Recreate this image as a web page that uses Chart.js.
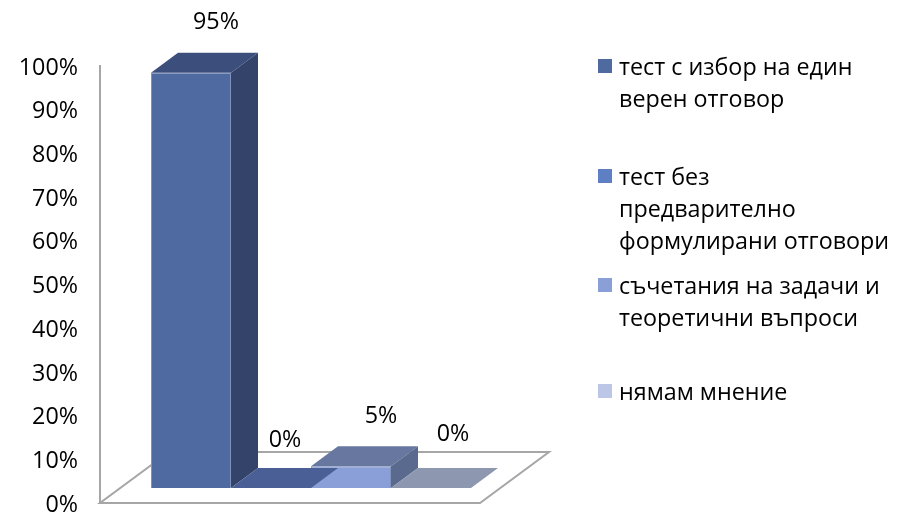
<!DOCTYPE html>
<html lang="bg">
<head>
  <meta charset="UTF-8" />
  <title>Тест</title>
  <script src="https://cdn.jsdelivr.net/npm/chart.js"></script>
  <style>
    html, body { margin: 0; background: #fff; }
    #wrap { position: relative; width: 898px; height: 512px; overflow: hidden; font-family: "Open Sans", sans-serif; color: #000; }
    #myChart { position: absolute; left: 0; top: 0; }
    .item { position: absolute; left: 598px; font-size: 23.3px; line-height: 32px; white-space: nowrap; }
    .item i { position: absolute; left: 0; top: 9px; width: 14px; height: 14px; }
    .item span { display: block; margin-left: 21px; }
  </style>
</head>
<body>
<div id="wrap">
  <canvas id="myChart" width="898" height="512"></canvas>
  <div id="legend"></div>
</div>
<script>
  const categories = [''];
  const seriesNames = ['тест с избор на един верен отговор', 'тест без предварително формулирани отговори', 'съчетания на задачи и теоретични въпроси', 'нямам мнение'];
  const seriesValues = [95, 0, 5, 0];
  const legendLines = [
    ['тест с избор на един', 'верен отговор'],
    ['тест без', 'предварително', 'формулирани отговори'],
    ['съчетания на задачи и', 'теоретични въпроси'],
    ['нямам мнение']
  ];
  const yTicks = [0, 10, 20, 30, 40, 50, 60, 70, 80, 90, 100];

  const frontColors = ['#4f6aa0', '#5f7fc5', '#8a9fd8', '#bcc7e8'];
  const topColors = ['#3c4f7c', '#4a5f95', '#67779f', '#8e97b0'];
  const sideColors = ['#344369', '#3f5183', '#5a6a8e', '#7d869f'];
  const legendTops = [50, 160, 269, 375];
  const labelNudge = [[25, -50], [14, -48], [30, -50], [22, -54]];

  const DEPTH_X = 27, DEPTH_Y = 20;

  function poly(ctx, pts, fill) {
    ctx.beginPath();
    pts.forEach((p, i) => i ? ctx.lineTo(p[0], p[1]) : ctx.moveTo(p[0], p[1]));
    ctx.closePath();
    ctx.fillStyle = fill;
    ctx.fill();
  }

  // floor of the fake 3D box, behind the bars
  const floorPlugin = {
    id: 'floor',
    beforeDatasetsDraw(chart) {
      const ctx = chart.ctx, a = chart.chartArea;
      ctx.save();
      ctx.strokeStyle = '#a6a6a6';
      ctx.lineWidth = 2;
      ctx.beginPath();
      ctx.moveTo(a.left, a.bottom);
      ctx.lineTo(a.left + 380, a.bottom);
      ctx.lineTo(a.left + 449, a.bottom - 51);
      ctx.lineTo(a.left + 69, a.bottom - 51);
      ctx.closePath();
      ctx.stroke();
      ctx.restore();
    },
    // depth faces and value labels come from the bar elements
    afterDatasetsDraw(chart) {
      const ctx = chart.ctx;
      ctx.save();
      chart.data.datasets.forEach((ds, i) => {
        const el = chart.getDatasetMeta(i).data[0];
        const l = el.x - el.width / 2, r = el.x + el.width / 2;
        poly(ctx, [[l, el.y], [r, el.y], [r + DEPTH_X, el.y - DEPTH_Y], [l + DEPTH_X, el.y - DEPTH_Y]], topColors[i]);
        if (el.base - el.y > 0.5) {
          poly(ctx, [[r, el.y], [r + DEPTH_X, el.y - DEPTH_Y], [r + DEPTH_X, el.base - DEPTH_Y], [r, el.base]], sideColors[i]);
        }
        ctx.fillStyle = '#000';
        ctx.font = '23.3px "Open Sans", sans-serif';
        ctx.textAlign = 'center';
        ctx.textBaseline = 'middle';
        ctx.fillText(ds.data[0] + '%', el.x + labelNudge[i][0], el.y + labelNudge[i][1]);
      });
      ctx.restore();
    }
  };

  const ctx = document.getElementById('myChart').getContext('2d');
  new Chart(ctx, {
    type: 'bar',
    data: {
      labels: categories,
      datasets: seriesNames.map((name, i) => ({
        label: name,
        data: [seriesValues[i]],
        yAxisID: 'bars',
        backgroundColor: frontColors[i],
        borderColor: '#7f93bd',
        borderWidth: seriesValues[i] > 0 ? 1 : 0,
        barPercentage: 1,
        categoryPercentage: 320 / 422
      }))
    },
    options: {
      responsive: false,
      animation: false,
      layout: { padding: { top: 66, bottom: 9, right: 376, left: 0 } },
      plugins: { legend: { display: false }, tooltip: { enabled: false } },
      scales: {
        x: { display: false },
        y: {
          position: 'left',
          // small shift so the tick labels sit 2px below the axis ends, as in the original
          min: 0.46,
          max: 100.46,
          afterFit(axis) { axis.width = 100; axis.paddingTop = 0; axis.paddingBottom = 0; },
          afterBuildTicks(axis) { axis.ticks = yTicks.map(v => ({ value: v })); },
          grid: { display: false, drawTicks: false },
          border: { display: true, color: '#a6a6a6', width: 2 },
          ticks: {
            padding: 22,
            color: '#000',
            font: { family: '"Open Sans", sans-serif', size: 23.3 },
            callback: v => v + '%'
          }
        },
        // same unit size as the visible axis, but the bars stand 15px up on the floor
        bars: { display: false, min: -3.43, max: 96.57 }
      }
    },
    plugins: [floorPlugin]
  });

  // legend wraps to several lines, so it is plain html
  const legendBox = document.getElementById('legend');
  legendLines.forEach((lines, i) => {
    const item = document.createElement('div');
    item.className = 'item';
    item.style.top = legendTops[i] + 'px';
    const box = document.createElement('i');
    box.style.background = frontColors[i];
    item.appendChild(box);
    lines.forEach(t => {
      const s = document.createElement('span');
      s.textContent = t;
      item.appendChild(s);
    });
    legendBox.appendChild(item);
  });
</script>
</body>
</html>
